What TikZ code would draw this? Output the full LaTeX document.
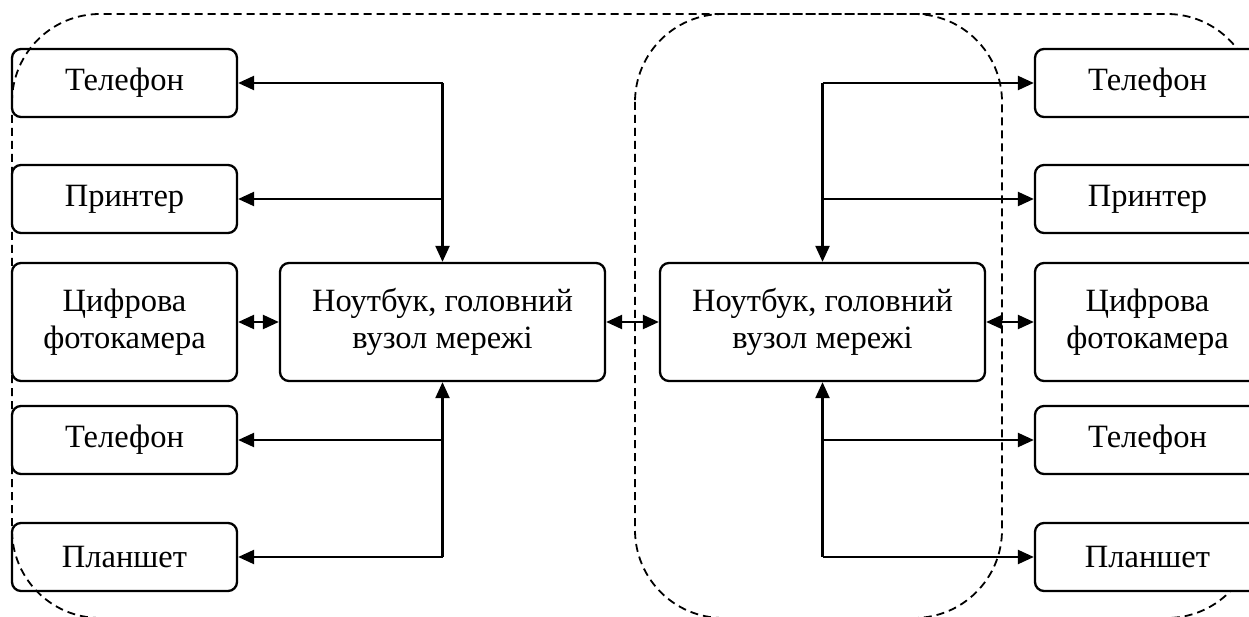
\documentclass[tikz,border=0pt]{standalone}
\usepackage{fontspec}
\setmainfont{Liberation Serif}
\usetikzlibrary{arrows.meta}
\begin{document}
\begin{tikzpicture}[x=1pt,y=-1pt,
  box/.style={draw, line width=2.3pt, rounded corners=9pt, fill=white,
    inner sep=0pt, align=center, font=\fontsize{32.5}{37.5}\selectfont,
    minimum width=225pt, minimum height=68pt},
  tallbox/.style={box, minimum height=118pt},
  hub/.style={box, minimum width=325pt, minimum height=118pt},
  tip/.tip={Triangle[length=16pt,width=14pt]},
  link/.style={line width=2.3pt, -tip},
  duplex/.style={line width=2.3pt, tip-tip},
  zone/.style={draw, line width=1.8pt, dash pattern=on 8pt off 5pt, rounded corners=88pt}
]
\clip (0,0) rectangle (1249,617);

% left group of devices
\node[box]     (lt1) at (124.5,83)  {Телефон};
\node[box]     (lp)  at (124.5,199) {Принтер};
\node[tallbox] (lc)  at (124.5,322) {Цифрова\\фотокамера};
\node[box]     (lt2) at (124.5,440) {Телефон};
\node[box]     (lpl) at (124.5,557) {Планшет};

% the two network hubs
\node[hub] (lhub) at (442.5,322) {Ноутбук, головний\\вузол мережі};
\node[hub] (rhub) at (822.5,322) {Ноутбук, головний\\вузол мережі};

% network zones
\draw[zone] (12,14) rectangle (1255,618);
\draw[zone] (635,14) rectangle (1002,618);

% right group of devices
\node[box]     (rt1) at (1147.5,83)  {Телефон};
\node[box]     (rp)  at (1147.5,199) {Принтер};
\node[tallbox] (rc)  at (1147.5,322) {Цифрова\\фотокамера};
\node[box]     (rt2) at (1147.5,440) {Телефон};
\node[box]     (rpl) at (1147.5,557) {Планшет};

% left hub links
\draw[link] (lt1.east -| lhub.north) -- (lhub.north);
\draw[link] (lt1.east -| lhub.north) -- (lt1.east);
\draw[link] (lp.east -| lhub.north) -- (lp.east);
\draw[link] (lpl.east -| lhub.south) -- (lhub.south);
\draw[link] (lt2.east -| lhub.south) -- (lt2.east);
\draw[link] (lpl.east -| lhub.south) -- (lpl.east);
\draw[duplex] (lc.east) -- (lhub.west);

% hub to hub
\draw[duplex] (lhub.east) -- (rhub.west);

% right hub links
\draw[link] (rt1.west -| rhub.north) -- (rhub.north);
\draw[link] (rt1.west -| rhub.north) -- (rt1.west);
\draw[link] (rp.west -| rhub.north) -- (rp.west);
\draw[link] (rpl.west -| rhub.south) -- (rhub.south);
\draw[link] (rt2.west -| rhub.south) -- (rt2.west);
\draw[link] (rpl.west -| rhub.south) -- (rpl.west);
\draw[duplex] (rhub.east) -- (rc.west);
\end{tikzpicture}
\end{document}
